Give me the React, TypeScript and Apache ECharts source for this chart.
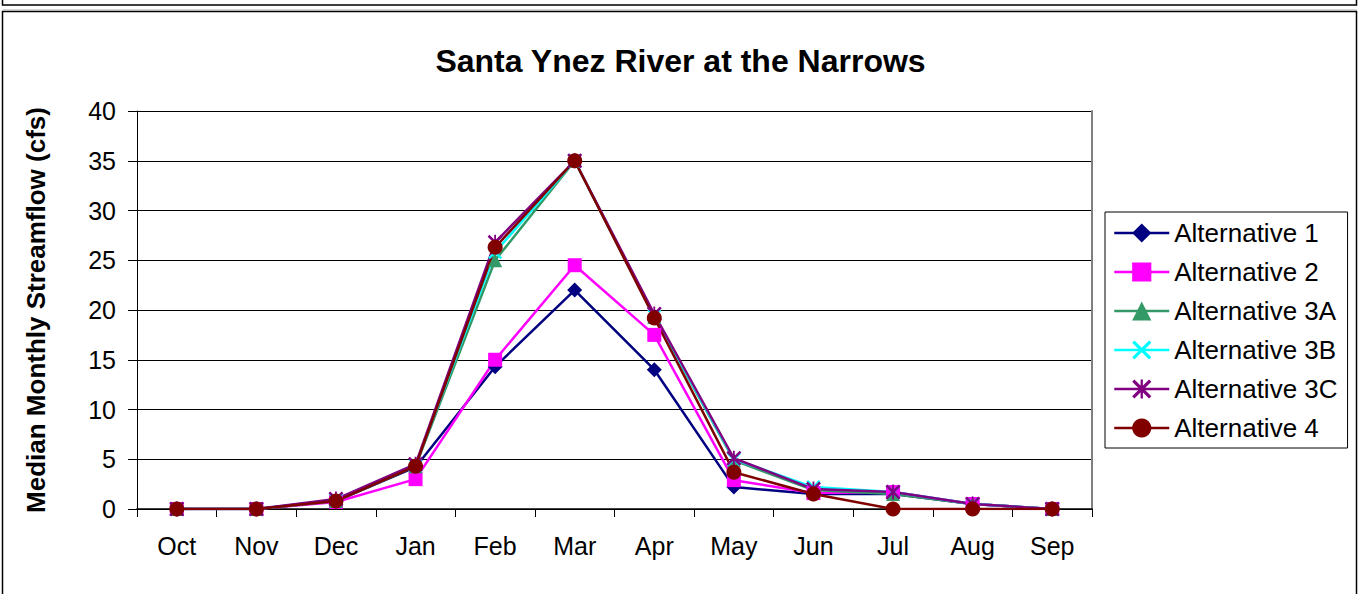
import React, { useEffect, useRef } from "react";
import * as echarts from "echarts";

const months = ["Oct", "Nov", "Dec", "Jan", "Feb", "Mar", "Apr", "May", "Jun", "Jul", "Aug", "Sep"];
const yTicks = [0, 5, 10, 15, 20, 25, 30, 35, 40];
const alt1 = [0, 0, 0.8, 4.2, 14.3, 22, 14, 2.2, 1.5, 1.5, 0.5, 0];
const alt2 = [0, 0, 0.7, 3, 15, 24.5, 17.5, 2.9, 1.6, 1.7, 0.5, 0];
const alt3A = [0, 0, 0.8, 4.3, 25, 35, 19.3, 4.9, 1.9, 1.5, 0.5, 0];
const alt3B = [0, 0, 0.9, 4.4, 25.8, 35, 19.4, 5, 2.2, 1.7, 0.5, 0];
const alt3C = [0, 0, 1, 4.5, 26.8, 35, 19.6, 5.1, 2, 1.7, 0.5, 0];
const alt4 = [0, 0, 0.8, 4.3, 26.3, 35, 19.2, 3.7, 1.5, 0, 0, 0];

const FONT = "'Liberation Sans', Arial, sans-serif";

const X_PATH =
  "path://M0,1.2 L1.2,0 L5,3.8 L8.8,0 L10,1.2 L6.2,5 L10,8.8 L8.8,10 L5,6.2 L1.2,10 L0,8.8 L3.8,5 Z";
const STAR_PATH =
  "path://M0,1.2 L1.2,0 L5,3.8 L8.8,0 L10,1.2 L6.2,5 L10,8.8 L8.8,10 L5,6.2 L1.2,10 L0,8.8 L3.8,5 Z M4.4,0 L5.6,0 L5.6,10 L4.4,10 Z";

const seriesDefs = [
  { name: "Alternative 1", data: alt1, color: "#000080", symbol: "diamond", size: 15 },
  { name: "Alternative 2", data: alt2, color: "#FF00FF", symbol: "rect", size: 14 },
  { name: "Alternative 3A", data: alt3A, color: "#339966", symbol: "triangle", size: 14 },
  { name: "Alternative 3B", data: alt3B, color: "#00FFFF", symbol: X_PATH, size: 14 },
  { name: "Alternative 3C", data: alt3C, color: "#800080", symbol: STAR_PATH, size: 15 },
  { name: "Alternative 4", data: alt4, color: "#800000", symbol: "circle", size: 15 },
];

export default function App() {
  const ref = useRef<HTMLDivElement>(null);
  useEffect(() => {
    if (!ref.current) return;
    const chart = echarts.init(ref.current, undefined, { renderer: "svg" });
    chart.setOption({
      animation: false,
      backgroundColor: "#ffffff",
      title: {
        text: "Santa Ynez River at the Narrows",
        left: "center",
        top: 40,
        textStyle: { fontFamily: FONT, fontSize: 32, fontWeight: "bold", color: "#000" },
      },
      graphic: [
        {
          type: "rect",
          shape: { x: 2.5, y: -20, width: 1354, height: 25 },
          style: { fill: "none", stroke: "#000", lineWidth: 1.5 },
          silent: true,
        },
        {
          type: "rect",
          shape: { x: 2.5, y: 11.5, width: 1354, height: 620 },
          style: { fill: "none", stroke: "#000", lineWidth: 1.5 },
          silent: true,
        },
        {
          type: "line",
          shape: { x1: 3, y1: 10, x2: 1357, y2: 10 },
          style: { stroke: "#aaa", lineWidth: 1 },
          silent: true,
        },
      ],
      legend: {
        orient: "vertical",
        left: 1105,
        top: 212,
        padding: [8, 10, 7, 8],
        itemWidth: 55,
        itemHeight: 24,
        itemGap: 13,
        borderColor: "#000",
        borderWidth: 1,
        backgroundColor: "#fff",
        lineStyle: { width: 2.5 },
        textStyle: { fontFamily: FONT, fontSize: 26, color: "#000", lineHeight: 26 },
        data: seriesDefs.map((s) => s.name),
      },
      grid: { left: 137, right: 269, top: 111, bottom: 85, containLabel: false },
      xAxis: {
        type: "category",
        data: months,
        boundaryGap: true,
        axisLine: { lineStyle: { color: "#000", width: 1.5 } },
        axisTick: { show: true, length: 8, lineStyle: { color: "#000" } },
        axisLabel: { fontFamily: FONT, fontSize: 25, color: "#000", margin: 24 },
        splitLine: { show: false },
      },
      yAxis: [
        {
          type: "value",
          min: 0,
          max: 40,
          interval: 5,
          name: "Median Monthly Streamflow (cfs)",
          nameLocation: "middle",
          nameGap: 88,
          nameTextStyle: { fontFamily: FONT, fontSize: 26, fontWeight: "bold", color: "#000" },
          axisLine: { show: true, lineStyle: { color: "#000", width: 1 } },
          axisTick: { show: true, length: 9, lineStyle: { color: "#000" } },
          axisLabel: {
            fontFamily: FONT,
            fontSize: 25,
            color: "#000",
            margin: 21,
            formatter: (v: number) => (yTicks.includes(v) ? String(v) : ""),
          },
          splitLine: { show: true, lineStyle: { color: "#000", width: 1 } },
        },
        {
          type: "value",
          min: 0,
          max: 40,
          interval: 5,
          position: "right",
          axisLine: { show: true, lineStyle: { color: "#808080", width: 2 } },
          axisTick: { show: false },
          axisLabel: { show: false },
          splitLine: { show: false },
        },
      ],
      series: seriesDefs.map((s) => ({
        name: s.name,
        type: "line",
        data: s.data,
        yAxisIndex: 0,
        symbol: s.symbol,
        symbolSize: s.size,
        showAllSymbol: true,
        lineStyle: { color: s.color, width: 2.5 },
        itemStyle: { color: s.color, borderWidth: 0 },
        emphasis: { disabled: true },
      })),
    });
    return () => chart.dispose();
  }, []);
  return (
    <div
      ref={ref}
      style={{ position: "fixed", left: 0, top: 0, width: 1361, height: 594 }}
    />
  );
}
